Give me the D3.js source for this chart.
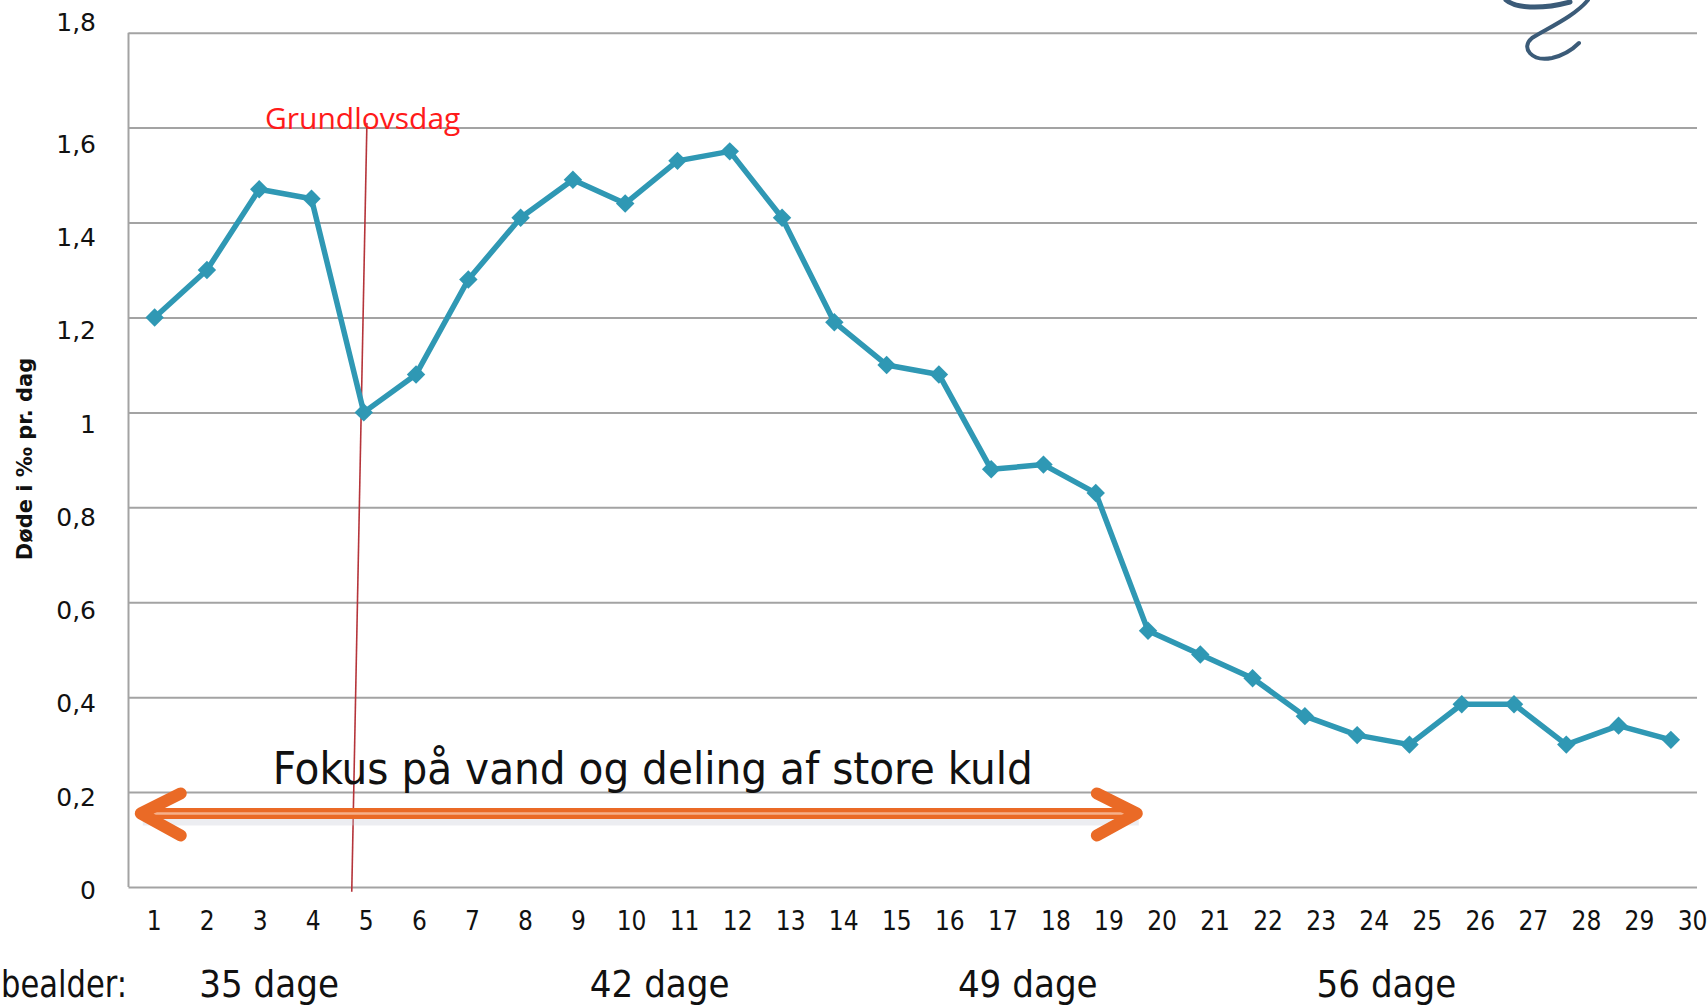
<!DOCTYPE html>
<html>
<head>
<meta charset="utf-8">
<script src="https://cdn.jsdelivr.net/npm/d3@7/dist/d3.min.js"></script>
<style>
  html, body { margin: 0; padding: 0; background: #ffffff; }
  svg { display: block; }
</style>
</head>
<body>
<svg id="chart" width="1708" height="1005"></svg>
<script>
// ---------- data ----------
const days = d3.range(1, 31);
const deaths = [1.20, 1.30, 1.47, 1.45, 1.00, 1.08, 1.28, 1.41, 1.49, 1.44,
                1.53, 1.55, 1.41, 1.19, 1.10, 1.08, 0.88, 0.89, 0.83, 0.54,
                0.49, 0.44, 0.36, 0.32, 0.30, 0.385, 0.385, 0.30, 0.34, 0.31];
const yTicks = [0, 0.2, 0.4, 0.6, 0.8, 1.0, 1.2, 1.4, 1.6, 1.8];
const yTickLabels = ["0", "0,2", "0,4", "0,6", "0,8", "1", "1,2", "1,4", "1,6", "1,8"];
const ageLabels = ["35 dage", "42 dage", "49 dage", "56 dage"];
const agePositions = [3.19, 10.66, 17.7, 24.56];
const yTitle = "Døde i ‰ pr. dag";
const ageTitle = "bealder:";
const holidayLabel = "Grundlovsdag";
const holidayLine = [5.06, 4.77];      // x at top / bottom of the marker line
const focusText = "Fokus på vand og deling af store kuld";
const focusRange = [0.62, 19.9];      // arrow from / to (day units)
const focusY = 0.155;                 // arrow level
const focusTextPos = [3.26, 0.217];

// ---------- layout ----------
const svg = d3.select("#chart");
const pLeft = 128.5, pRight = 1697, pTop = 32.7, pBottom = 887;

const x = d3.scaleBand().domain(days).range([pLeft, pRight]);
const xLin = d3.scaleLinear().domain([0.5, 30.5]).range([pLeft, pRight]);
const y = d3.scaleLinear().domain([0, 1.8]).range([pBottom, pTop]);
// tick labels in the source sit on a slightly different spacing
const yLab = d3.scaleLinear().domain([0, 1.6]).range([890, 143.8]);
const xLab = d3.scalePoint().domain(days).range([153.6, 1692]);

const lineColor = "#2f98b4";
const gridColor = "#a3a3a3";
const condensed = "'DejaVu Sans Condensed', 'DejaVu Sans', sans-serif";

// gridlines
svg.append("g")
  .attr("transform", `translate(${pLeft},0)`)
  .call(d3.axisLeft(y).tickValues(yTicks).tickSize(-(pRight - pLeft)).tickFormat(""))
  .call(g => g.select(".domain").remove())
  .call(g => g.selectAll(".tick line").attr("stroke", gridColor).attr("stroke-width", 2));

// left axis line
svg.append("line")
  .attr("x1", pLeft).attr("x2", pLeft).attr("y1", y(1.8)).attr("y2", y(0))
  .attr("stroke", gridColor).attr("stroke-width", 2);

// y tick labels
const yAx = svg.append("g")
  .attr("transform", "translate(96,0)")
  .call(d3.axisLeft(yLab).tickValues(yTicks).tickSize(0)
        .tickFormat(d => yTickLabels[yTicks.indexOf(d)]))
  .call(g => g.select(".domain").remove());
yAx.selectAll(".tick text")
  .attr("x", 0)
  .attr("font-family", "'DejaVu Sans', sans-serif")
  .attr("font-size", 25)
  .attr("fill", "#111")
  .attr("dy", d => d === 1.8 ? "-0.8em" : "0.34em")
  .attr("text-anchor", "end");

// x tick labels
const xAx = svg.append("g")
  .attr("transform", "translate(0,930)")
  .call(d3.axisBottom(xLab).tickSize(0))
  .call(g => g.select(".domain").remove());
xAx.selectAll(".tick text")
  .attr("y", 0).attr("dy", 0)
  .attr("font-family", condensed)
  .attr("font-size", 26)
  .attr("fill", "#111");

// y title
svg.append("text")
  .attr("transform", "translate(32,459) rotate(-90)")
  .attr("text-anchor", "middle")
  .attr("font-family", "'DejaVu Sans', sans-serif")
  .attr("font-weight", "bold")
  .attr("font-size", 21)
  .attr("fill", "#111")
  .text(yTitle);

// holiday marker
svg.append("line")
  .attr("x1", xLin(holidayLine[0])).attr("y1", y(1.61))
  .attr("x2", xLin(holidayLine[1])).attr("y2", y(-0.01))
  .attr("stroke", "#b5343a").attr("stroke-width", 1.6);
svg.append("text")
  .attr("x", xLin(3.11)).attr("y", y(1.597))
  .attr("font-family", "'Open Sans', sans-serif")
  .attr("font-size", 30)
  .attr("fill", "#ff1a1a")
  .text(holidayLabel);

// data line
svg.append("path")
  .datum(deaths)
  .attr("fill", "none")
  .attr("stroke", lineColor)
  .attr("stroke-width", 5.5)
  .attr("stroke-linejoin", "round")
  .attr("d", d3.line().x((d, i) => x(days[i]) + x.bandwidth() / 2).y(d => y(d)));

svg.append("g").selectAll("path")
  .data(deaths)
  .join("path")
  .attr("transform", (d, i) => `translate(${x(days[i]) + x.bandwidth() / 2},${y(d)}) rotate(45)`)
  .attr("d", d3.symbol(d3.symbolSquare, 170)())
  .attr("fill", lineColor);

// focus arrow
const ay = y(focusY), ax0 = xLin(focusRange[0]), ax1 = xLin(focusRange[1]);
const arrowG = svg.append("g");
const orange = "#ea6a26";
arrowG.append("path")
  .attr("d", `M${ax0 + 8},${ay + 7} L${ax1 - 4},${ay + 7}`)
  .attr("stroke", "#c9ccd6").attr("stroke-width", 10).attr("opacity", 0.35).attr("fill", "none");
arrowG.append("line")
  .attr("x1", ax0 + 6).attr("x2", ax1 - 6).attr("y1", ay).attr("y2", ay)
  .attr("stroke", orange).attr("stroke-width", 11);
arrowG.append("line")
  .attr("x1", ax0 + 14).attr("x2", ax1 - 14).attr("y1", ay).attr("y2", ay)
  .attr("stroke", "#f6b08a").attr("stroke-width", 2.5);
arrowG.append("path")
  .attr("d", `M${ax0 + 46},${ay - 20} L${ax0 + 6},${ay} L${ax0 + 46},${ay + 22}`)
  .attr("fill", "none").attr("stroke", orange).attr("stroke-width", 12)
  .attr("stroke-linecap", "round").attr("stroke-linejoin", "round");
arrowG.append("path")
  .attr("d", `M${ax1 - 46},${ay - 20} L${ax1 - 6},${ay} L${ax1 - 46},${ay + 22}`)
  .attr("fill", "none").attr("stroke", orange).attr("stroke-width", 12)
  .attr("stroke-linecap", "round").attr("stroke-linejoin", "round");

svg.append("text")
  .attr("x", xLin(focusTextPos[0])).attr("y", y(focusTextPos[1]))
  .attr("font-family", condensed)
  .attr("font-size", 44)
  .attr("textLength", 760).attr("lengthAdjust", "spacingAndGlyphs")
  .attr("fill", "#111")
  .text(focusText);

// age labels
svg.append("g").selectAll("text")
  .data(ageLabels)
  .join("text")
  .attr("x", (d, i) => xLin(agePositions[i]))
  .attr("y", 997)
  .attr("text-anchor", "middle")
  .attr("font-family", condensed)
  .attr("font-size", 38)
  .attr("fill", "#111")
  .text(d => d);
svg.append("text")
  .attr("x", 1).attr("y", 997)
  .attr("font-family", condensed)
  .attr("font-size", 38)
  .attr("textLength", 126).attr("lengthAdjust", "spacingAndGlyphs")
  .attr("fill", "#111")
  .text(ageTitle);

// decorative logo curl (top right)
svg.append("path")
  .attr("d", "M1506,0 C1515,8 1540,10 1570,2")
  .attr("fill", "none").attr("stroke", "#3b5b78").attr("stroke-width", 5).attr("stroke-linecap", "round");
svg.append("path")
  .attr("d", "M1588,0 C1575,16 1548,28 1532,38 C1520,48 1532,62 1552,58 C1565,55 1574,48 1579,43")
  .attr("fill", "none").attr("stroke", "#3b5b78").attr("stroke-width", 4).attr("stroke-linecap", "round");
</script>
</body>
</html>
